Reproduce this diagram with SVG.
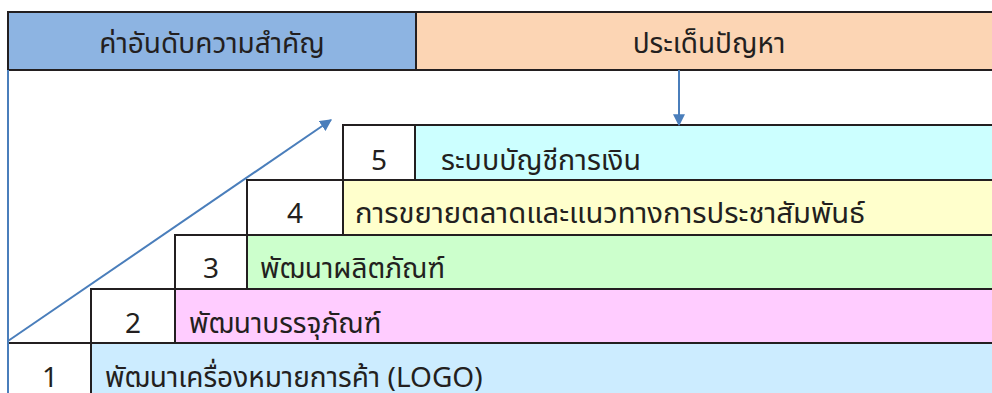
<svg xmlns="http://www.w3.org/2000/svg" width="992" height="393" viewBox="0 0 992 393">
  <defs>
    <style>
      .cell { stroke: #231F20; stroke-width: 2; }
      .txt { font-family: "Noto Sans Thai", "Noto Sans", "DejaVu Sans", sans-serif; font-size: 28px; fill: #231F20; }
      .num { text-anchor: middle; }
      .conn { stroke: #4A7EBB; stroke-width: 2; fill: none; }
    </style>
    <marker id="arr" viewBox="0 0 10 10" refX="9" refY="5" markerWidth="6" markerHeight="6" orient="auto" markerUnits="strokeWidth">
      <path d="M0,0 L10,5 L0,10 z" fill="#4A7EBB"/>
    </marker>
  </defs>
  <rect width="992" height="393" fill="#FFFFFF"/>

  <g id="header-priority">
    <rect class="cell" x="8" y="12" width="408" height="58" fill="#8DB4E2"/>
    <text class="txt num" x="212" y="53">ค่าอันดับความสำคัญ</text>
  </g>
  <g id="header-issue">
    <rect class="cell" x="416" y="12" width="590" height="58" fill="#FCD5B4"/>
    <text class="txt num" x="709" y="53">ประเด็นปัญหา</text>
  </g>

  <g id="row5">
    <rect class="cell" x="343" y="125" width="72" height="55" fill="#FFFFFF"/>
    <rect class="cell" x="415" y="125" width="590" height="55" fill="#CCFFFF"/>
    <text class="txt num" x="379" y="170">5</text>
    <text class="txt" x="441" y="170" textLength="200" lengthAdjust="spacingAndGlyphs">ระบบบัญชีการเงิน</text>
  </g>
  <g id="row4">
    <rect class="cell" x="247" y="180" width="96" height="55" fill="#FFFFFF"/>
    <rect class="cell" x="343" y="180" width="662" height="55" fill="#FFFFCC"/>
    <text class="txt num" x="295" y="223">4</text>
    <text class="txt" x="355" y="223" textLength="510" lengthAdjust="spacingAndGlyphs">การขยายตลาดและแนวทางการประชาสัมพันธ์</text>
  </g>
  <g id="row3">
    <rect class="cell" x="175" y="235" width="72" height="54" fill="#FFFFFF"/>
    <rect class="cell" x="247" y="235" width="758" height="54" fill="#CCFFCC"/>
    <text class="txt num" x="211" y="278">3</text>
    <text class="txt" x="260" y="278">พัฒนาผลิตภัณฑ์</text>
  </g>
  <g id="row2">
    <rect class="cell" x="91" y="289" width="84" height="54" fill="#FFFFFF"/>
    <rect class="cell" x="175" y="289" width="830" height="54" fill="#FFCCFF"/>
    <text class="txt num" x="133" y="333">2</text>
    <text class="txt" x="189" y="333">พัฒนาบรรจุภัณฑ์</text>
  </g>
  <g id="row1">
    <rect class="cell" x="8" y="343" width="83" height="60" fill="#FFFFFF"/>
    <rect class="cell" x="91" y="343" width="914" height="60" fill="#CCECFF"/>
    <text class="txt num" x="50" y="387">1</text>
    <text class="txt" x="105" y="387">พัฒนาเครื่องหมายการค้า (LOGO)</text>
  </g>

  <g id="connectors">
    <line class="conn" x1="8" y1="70" x2="8" y2="393"/>
    <line class="conn" x1="8" y1="341" x2="331" y2="120" marker-end="url(#arr)"/>
    <line class="conn" x1="679" y1="70" x2="679" y2="125" marker-end="url(#arr)"/>
  </g>
</svg>
